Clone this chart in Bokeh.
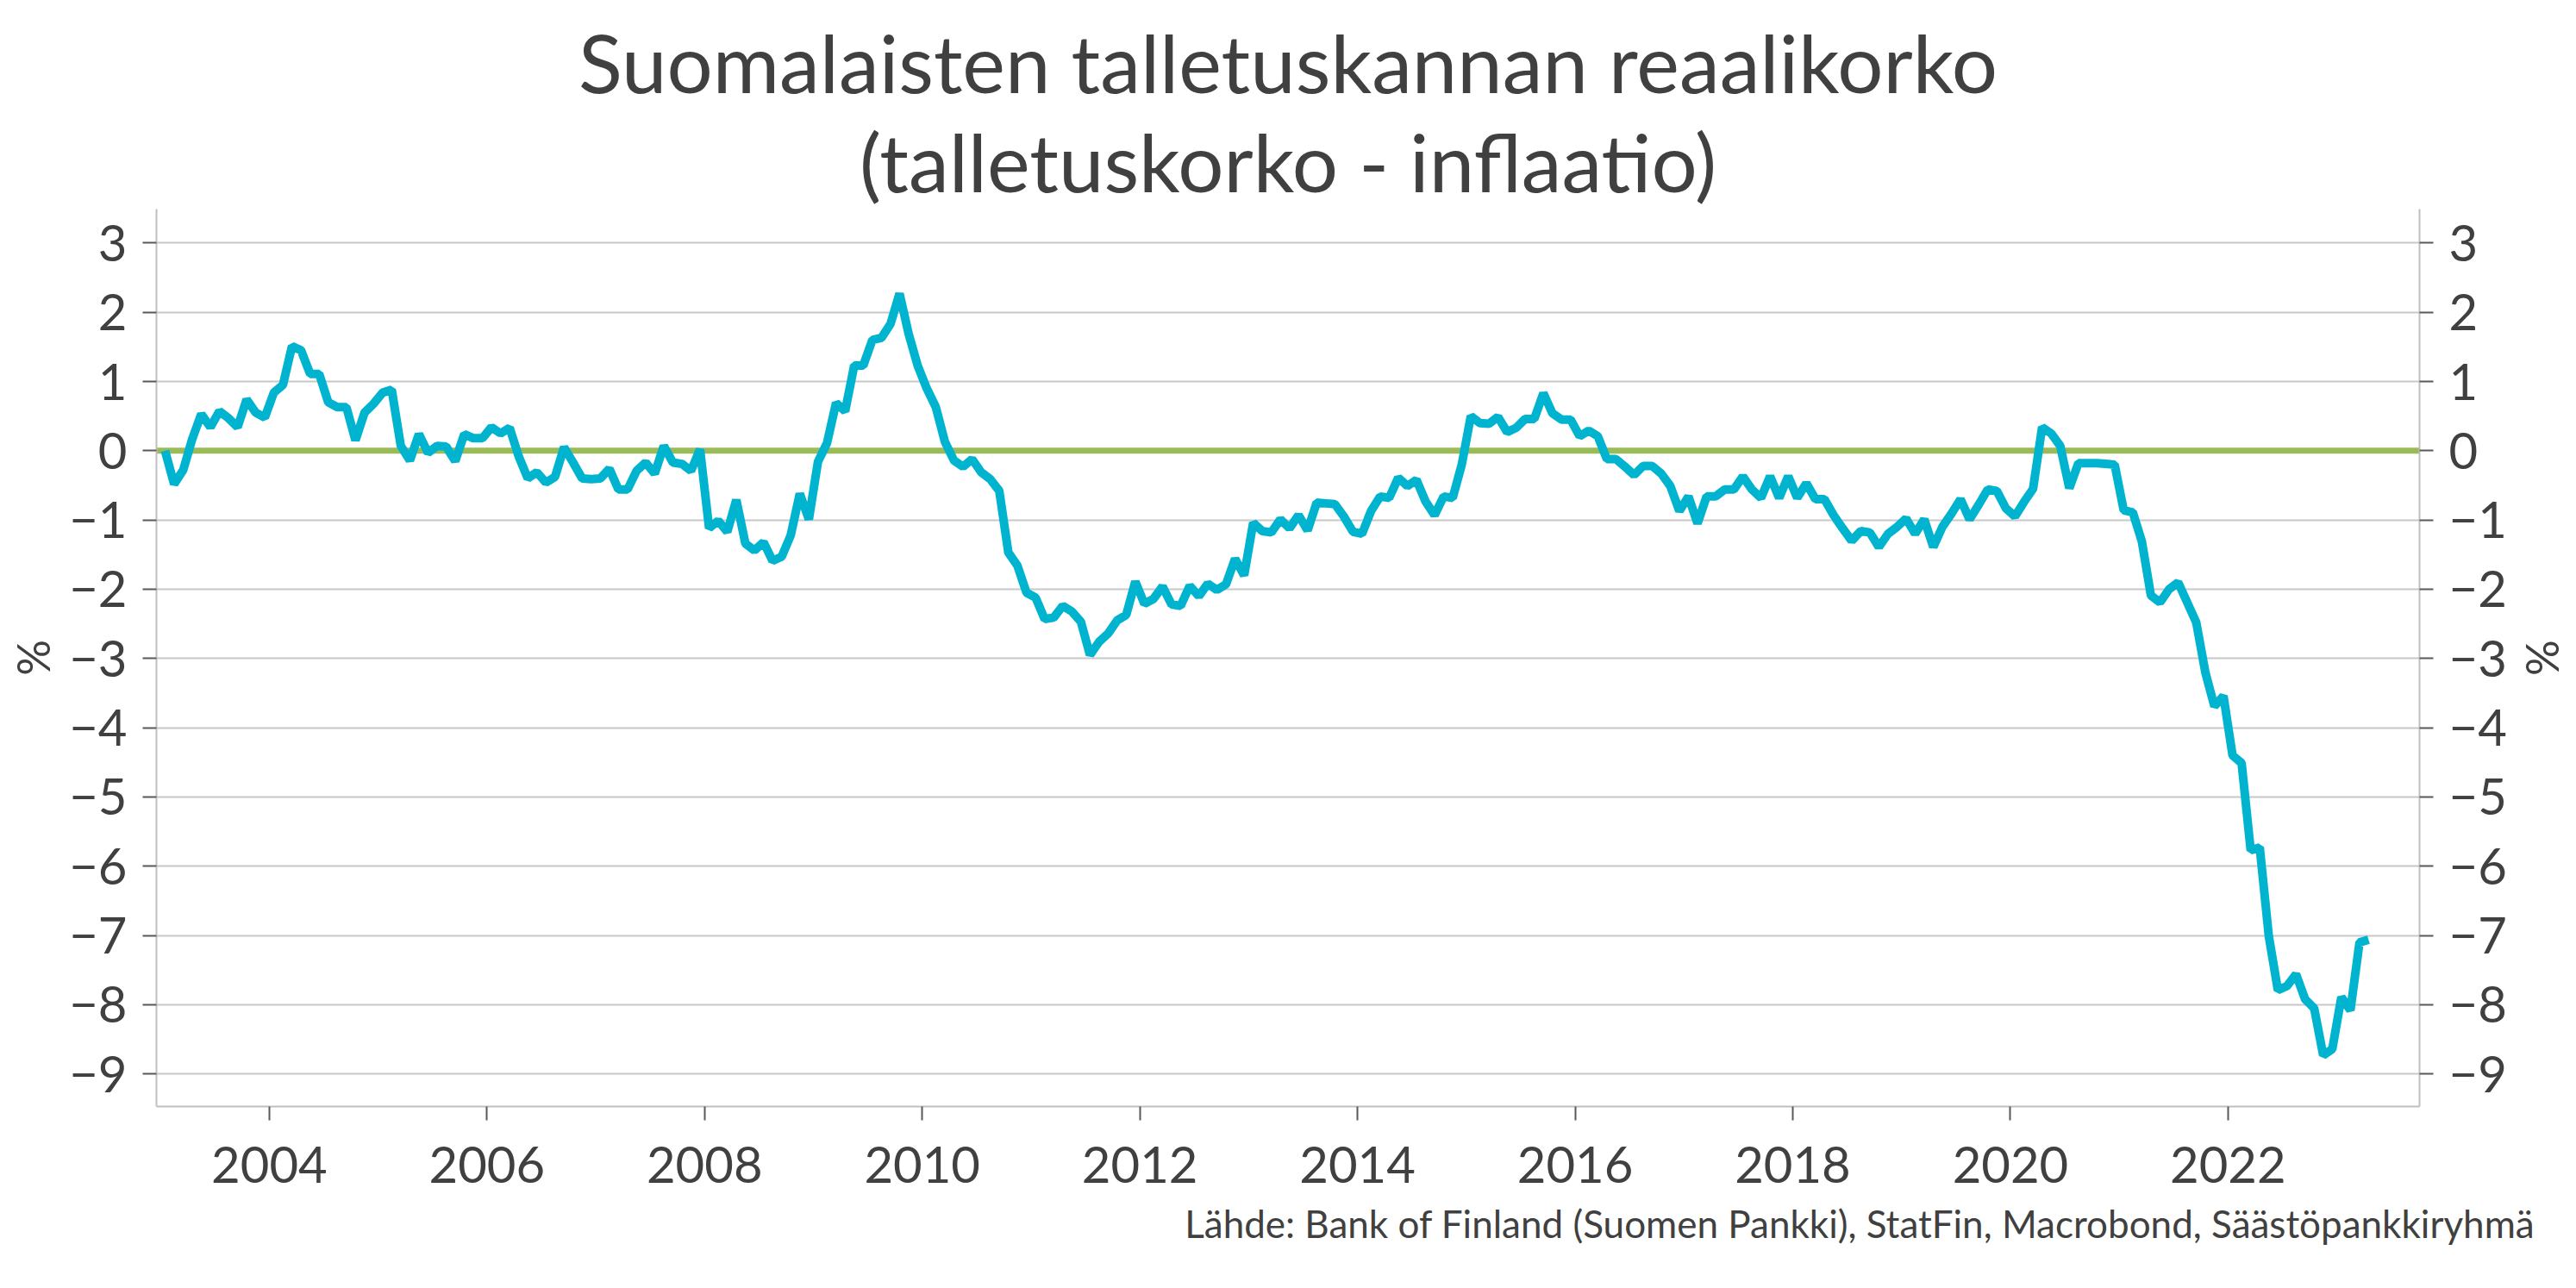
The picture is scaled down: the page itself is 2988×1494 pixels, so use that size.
from bokeh.plotting import figure
from bokeh.models import Range1d, FixedTicker, LinearAxis, Span, Title
from bokeh.embed import file_html
from bokeh.resources import INLINE

# ---------------- data ----------------
title_line1 = "Suomalaisten talletuskannan reaalikorko"
title_line2 = "(talletuskorko - inflaatio)"
source_note = "Lähde: Bank of Finland (Suomen Pankki), StatFin, Macrobond, Säästöpankkiryhmä"
y_label = "%"

start_year = 2003  # monthly series starting January 2003

# real interest rate on deposit stock, % (monthly, Jan 2003 - Apr 2023)
real_rate = [
    0.00, -0.48, -0.28, 0.17, 0.53, 0.34, 0.57, 0.47, 0.34, 0.74, 0.55, 0.48,      # 2003
    0.84, 0.95, 1.51, 1.45, 1.11, 1.11, 0.70, 0.63, 0.63, 0.15, 0.55, 0.68,        # 2004
    0.84, 0.88, 0.07, -0.14, 0.24, -0.03, 0.07, 0.06, -0.15, 0.24, 0.18, 0.18,     # 2005
    0.34, 0.25, 0.33, -0.08, -0.40, -0.31, -0.46, -0.38, 0.05, -0.17, -0.40, -0.41,  # 2006
    -0.40, -0.26, -0.56, -0.56, -0.29, -0.17, -0.33, 0.07, -0.17, -0.19, -0.29, 0.02,  # 2007
    -1.12, -1.01, -1.17, -0.71, -1.34, -1.44, -1.32, -1.59, -1.53, -1.22, -0.62, -0.99,  # 2008
    -0.16, 0.11, 0.69, 0.57, 1.23, 1.23, 1.60, 1.63, 1.83, 2.27, 1.69, 1.23,       # 2009
    0.90, 0.63, 0.13, -0.14, -0.23, -0.12, -0.31, -0.41, -0.58, -1.47, -1.66, -2.05,  # 2010
    -2.12, -2.43, -2.41, -2.24, -2.32, -2.47, -2.95, -2.76, -2.64, -2.45, -2.37, -1.89,  # 2011
    -2.21, -2.14, -1.96, -2.22, -2.24, -1.95, -2.10, -1.92, -2.01, -1.93, -1.56, -1.80,  # 2012
    -1.04, -1.16, -1.18, -0.99, -1.12, -0.93, -1.15, -0.75, -0.76, -0.77, -0.95, -1.17,  # 2013
    -1.20, -0.87, -0.66, -0.68, -0.39, -0.51, -0.42, -0.73, -0.93, -0.66, -0.68, -0.20,  # 2014
    0.50, 0.40, 0.39, 0.49, 0.27, 0.33, 0.46, 0.46, 0.83, 0.54, 0.45, 0.45,        # 2015
    0.21, 0.29, 0.21, -0.12, -0.12, -0.23, -0.35, -0.22, -0.22, -0.33, -0.51, -0.87,  # 2016
    -0.66, -1.05, -0.66, -0.66, -0.56, -0.56, -0.37, -0.56, -0.68, -0.37, -0.68, -0.37,  # 2017
    -0.68, -0.47, -0.70, -0.70, -0.93, -1.12, -1.30, -1.16, -1.18, -1.39, -1.20, -1.10,  # 2018
    -0.98, -1.20, -0.99, -1.39, -1.10, -0.91, -0.70, -0.99, -0.78, -0.56, -0.58, -0.83,  # 2019
    -0.95, -0.74, -0.55, 0.34, 0.25, 0.07, -0.54, -0.18, -0.18, -0.18, -0.19, -0.20,  # 2020
    -0.86, -0.89, -1.31, -2.09, -2.19, -2.00, -1.90, -2.19, -2.48, -3.20, -3.69, -3.54,  # 2021
    -4.40, -4.51, -5.77, -5.73, -7.01, -7.79, -7.73, -7.56, -7.92, -8.05, -8.73, -8.64,  # 2022
    -7.89, -8.08, -7.10, -7.06,                                                     # 2023
]

x_tick_years = [2004, 2006, 2008, 2010, 2012, 2014, 2016, 2018, 2020, 2022]
y_ticks = [-9, -8, -7, -6, -5, -4, -3, -2, -1, 0, 1, 2, 3]

# mid-month positions in decimal years
x_vals = [start_year + (i + 0.5) / 12.0 for i in range(len(real_rate))]

# ---------------- style ----------------
TEXT = "#404040"
FONT = "Lato"
LINE_BLUE = "#00B4D0"
ZERO_GREEN = "#9BBB59"
GRID = "#C8C8C8"
AXIS = "#BFBFBF"
TICK = "#595959"

p = figure(
    width=2988, height=1494,
    x_range=Range1d(2002.963, 2023.76),
    y_range=Range1d(-9.47, 3.49),
    output_backend="svg", toolbar_location=None,
    min_border_left=181, min_border_right=182,
    min_border_top=242, min_border_bottom=211,
    background_fill_color="white", border_fill_color="white",
)
p.outline_line_color = None

# title (two lines): p.title is the outer one, the added Title sits next to the frame
p.title.text = title_line1
p.title.align = "center"
p.title.text_font = FONT
p.title.text_font_size = "94px"
p.title.text_font_style = "normal"
p.title.text_color = TEXT
p.title.standoff = 0
t2 = Title(text=title_line2, align="center", text_font=FONT, text_font_size="94px",
           text_font_style="normal", text_color=TEXT, standoff=0)
p.add_layout(t2, "above")

# axes
yt = FixedTicker(ticks=y_ticks)
xt = FixedTicker(ticks=x_tick_years)

def style_axis(ax):
    ax.axis_line_color = AXIS
    ax.axis_line_width = 2
    ax.major_tick_line_color = TICK
    ax.major_tick_line_width = 2
    ax.major_tick_out = 16
    ax.major_tick_in = 0
    ax.minor_tick_line_color = None
    ax.major_label_text_font = FONT
    ax.major_label_text_font_size = "58px"
    ax.major_label_text_color = TEXT
    ax.axis_label_text_font = FONT
    ax.axis_label_text_font_size = "52px"
    ax.axis_label_text_font_style = "normal"
    ax.axis_label_text_color = TEXT

p.xaxis.ticker = xt
style_axis(p.xaxis[0])
p.xaxis.major_label_standoff = 30

p.yaxis.ticker = yt
style_axis(p.yaxis[0])
p.yaxis.axis_label = y_label
p.yaxis.major_label_standoff = 18
p.yaxis.axis_label_standoff = 8

right = LinearAxis(ticker=yt, axis_label=y_label)
style_axis(right)
right.major_label_standoff = 18
right.axis_label_standoff = 8
p.add_layout(right, "right")

# grid
p.xgrid.visible = False
p.ygrid.ticker = yt
p.ygrid.grid_line_color = GRID
p.ygrid.grid_line_width = 2

# zero line
p.add_layout(Span(location=0, dimension="width", line_color=ZERO_GREEN,
                  line_width=7, level="underlay"))

# data line
p.line(x_vals, real_rate, line_color=LINE_BLUE, line_width=10)

# source note
note = Title(text=source_note, align="right", text_font=FONT, text_font_size="44px",
             text_font_style="normal", text_color=TEXT, standoff=32, offset=-134)
p.add_layout(note, "below")

open("out.html", "w").write(file_html(p, INLINE))
